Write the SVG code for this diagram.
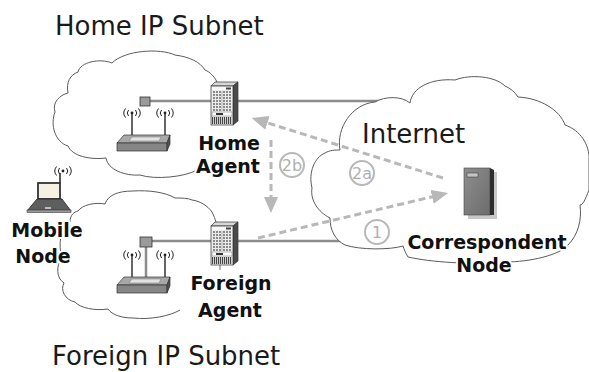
<svg xmlns="http://www.w3.org/2000/svg" width="589" height="372" viewBox="0 0 589 372">
<defs>
<style>
.cloud{fill:#fff;stroke:#5a5a5a;stroke-width:1}
.cloud-edge{fill:none;stroke:#5a5a5a;stroke-width:1}
.link{stroke:#8c8c8c;stroke-width:2.5;fill:none}
.flow{stroke:#b8b8b8;stroke-width:3;stroke-dasharray:7 4;fill:none}
.title{font-family:"DejaVu Sans",sans-serif;font-size:26px;fill:#1a1a1a}
.label{font-family:"DejaVu Sans",sans-serif;font-weight:bold;font-size:19px;fill:#111;text-anchor:middle;stroke:#fff;stroke-width:4;paint-order:stroke;stroke-linejoin:round}
.step circle{fill:none;stroke:#b8b8b8;stroke-width:2}
.step text{font-family:"DejaVu Sans",sans-serif;font-size:16px;fill:#b0b0b0;text-anchor:middle}
.dev{stroke:#333;stroke-width:0.7}
</style>
<marker id="head" markerWidth="5.5" markerHeight="4.8" refX="1" refY="2.4" orient="auto" markerUnits="strokeWidth">
  <path d="M0,0 L5.5,2.4 L0,4.8 Z" fill="#b8b8b8"/>
</marker>
<linearGradient id="srvGrad" x1="0" y1="0" x2="1" y2="1">
  <stop offset="0" stop-color="#8e8e8e"/>
  <stop offset="1" stop-color="#6c6c6c"/>
</linearGradient>
<!-- small radio-wave emblem: dot with two arcs each side -->
<symbol id="waves" viewBox="-10 -5 20 10" width="20" height="10" overflow="visible">
  <circle r="1.4" fill="#222"/>
  <path d="M-3.5,-3 Q-6,0 -3.5,3 M-6.5,-4.5 Q-10,0 -6.5,4.5 M3.5,-3 Q6,0 3.5,3 M6.5,-4.5 Q10,0 6.5,4.5" fill="none" stroke="#222" stroke-width="1"/>
</symbol>
<!-- chassis router -->
<symbol id="chassis" viewBox="0 0 28 43" width="28" height="43" overflow="visible">
  <polygon class="dev" points="1,4 5,0 28,0 23,4" fill="#d8d8d8"/>
  <polygon class="dev" points="23,4 28,0 28,39 23,43" fill="#4a4a4a"/>
  <rect class="dev" x="1" y="4" width="22" height="39" fill="#ececec"/>
  <rect x="2" y="5" width="20" height="3" fill="#f8f8f8"/>
  <rect x="16" y="5.5" width="5" height="2" fill="#444"/>
  <g stroke="#6a6a6a" stroke-width="1.4" stroke-dasharray="2 1">
    <line x1="3" y1="10" x2="11" y2="10"/><line x1="13" y1="10" x2="21" y2="10"/>
    <line x1="3" y1="13" x2="11" y2="13"/><line x1="13" y1="13" x2="21" y2="13"/>
    <line x1="3" y1="16" x2="11" y2="16"/><line x1="13" y1="16" x2="21" y2="16"/>
    <line x1="3" y1="19" x2="11" y2="19"/><line x1="13" y1="19" x2="21" y2="19"/>
    <line x1="3" y1="22" x2="11" y2="22"/><line x1="13" y1="22" x2="21" y2="22"/>
    <line x1="3" y1="25" x2="11" y2="25"/><line x1="13" y1="25" x2="21" y2="25"/>
    <line x1="3" y1="28" x2="11" y2="28"/><line x1="13" y1="28" x2="21" y2="28"/>
  </g>
  <line x1="12" y1="9" x2="12" y2="29" stroke="#999" stroke-width="0.6"/>
  <rect x="2" y="30" width="20" height="4" fill="#fafafa" stroke="#777" stroke-width="0.5"/>
  <rect x="6" y="31" width="7" height="2" fill="#333"/>
  <rect x="2" y="35" width="20" height="7" fill="#cfcfcf"/>
  <line x1="2" y1="38.5" x2="22" y2="38.5" stroke="#444" stroke-width="7" stroke-dasharray="1 1"/>
</symbol>
<!-- wireless access point with two antennas -->
<symbol id="ap" viewBox="0 0 56 44" width="56" height="44" overflow="visible">
  <line x1="17" y1="6" x2="17" y2="30" stroke="#333" stroke-width="1.5"/>
  <line x1="50" y1="6" x2="50" y2="30" stroke="#333" stroke-width="1.5"/>
  <use href="#waves" x="7" y="0"/>
  <use href="#waves" x="40" y="0"/>
  <polygon class="dev" points="9,27 55,27 52,35 2,35" fill="#a8a8a8"/>
  <polygon points="17,29 46,29 44,33 14,33" fill="#e2e2e2" stroke="#777" stroke-width="0.5"/>
  <rect class="dev" x="2" y="35" width="50" height="8" fill="#868686"/>
  <polygon class="dev" points="52,35 55,27 55,36 52,43" fill="#505050"/>
</symbol>
</defs>

<rect width="589" height="372" fill="#fff"/>

<!-- subnet clouds -->
<g id="home-subnet">
  <path class="cloud-edge" d="M197,170 C185,177 155,180 140,175 C125,176 108,170 106,158 C90,160 72,156 68,146 C55,142 50,125 55,112 C52,102 60,95 68,93 C66,82 70,75 78,72 C80,62 100,58 112,63 C125,50 160,48 175,55 C190,57 200,62 205,70 C210,72 214,76 217,82"/>
  <text class="title" x="55" y="35" font-size="26.5">Home IP Subnet</text>
</g>
<g id="foreign-subnet">
  <path class="cloud-edge" d="M180,310 C170,316 150,320 133,318 C122,318 112,315 108,309 C95,311 80,308 75,302 C65,300 60,290 64,283 C56,278 56,265 62,258 C58,245 60,228 70,222 C70,215 74,212 78,211 C82,205 95,202 105,204 C108,195 118,191 133,191 C148,190 165,192 175,198 C182,198 188,198 192,200 C200,201 208,206 212,212 C214,216 215,219 216,222"/>
  <text class="title" x="52" y="365">Foreign IP Subnet</text>
</g>

<!-- wired links -->
<g id="links">
  <line class="link" x1="150" y1="101" x2="380" y2="101"/>
  <line class="link" x1="152" y1="241" x2="345" y2="241"/>
  <line class="link" x1="146" y1="247" x2="146" y2="280"/>
</g>

<g id="internet">
  <path class="cloud" d="M340,150 C336,128 352,104 375,102 C385,96 402,96 410,103 C412,88 430,78 455,80 C470,74 495,76 505,86 C510,88 515,92 518,97 C540,98 560,110 565,125 C580,130 590,145 589,160 L589,190 C585,200 583,205 580,205 C582,220 578,235 568,245 C560,255 530,262 505,262 C470,265 430,262 408,257 C405,252 404,249 403,246 C390,250 360,250 345,245 C335,240 330,230 330,218 C318,212 310,200 312,188 C308,172 315,157 325,153 C330,150 335,150 340,150 Z"/>
  <text class="title" x="362" y="143" font-size="25">Internet</text>
</g>

<!-- devices -->
<g id="home-ap">
  <rect x="140" y="97" width="10" height="9" fill="#9a9a9a" stroke="#333" stroke-width="0.8"/>
  <use href="#ap" x="115" y="108"/>
</g>
<g id="foreign-ap">
  <rect x="140" y="237" width="12" height="10" fill="#9a9a9a" stroke="#333" stroke-width="0.8"/>
  <use href="#ap" x="115" y="250"/>
</g>
<g id="home-agent">
  <use href="#chassis" x="210" y="82"/>
  <text class="label" x="229" y="150">Home</text>
  <text class="label" x="228" y="173">Agent</text>
</g>
<g id="foreign-agent">
  <use href="#chassis" x="210" y="222"/>
  <line x1="220" y1="265" x2="220" y2="270" stroke="#444" stroke-width="0.8"/>
  <text class="label" x="231" y="290">Foreign</text>
  <text class="label" x="230" y="317">Agent</text>
</g>
<g id="mobile-node">
  <line x1="60" y1="183" x2="60" y2="173" stroke="#222" stroke-width="1.5"/>
  <use href="#waves" x="53" y="166"/>
  <rect x="38" y="183" width="22" height="16" fill="#f5f2e4" stroke="#333" stroke-width="1.8"/>
  <polygon points="37,199 62,199 71,211 27,211" fill="#5e5e5e" stroke="#222" stroke-width="0.8"/>
  <rect x="27" y="210" width="44" height="2.5" fill="#9a9a9a" stroke="#222" stroke-width="0.5"/>
  <rect x="45" y="207" width="6" height="2" fill="#bbb"/>
  <text class="label" x="47" y="237">Mobile</text>
  <text class="label" x="43" y="263">Node</text>
</g>
<g id="correspondent-node">
  <polygon points="468,215 494,215 494,172 497,172 497,219 468,219" fill="#c8c8c8"/>
  <rect x="464" y="168" width="26" height="47" fill="url(#srvGrad)" stroke="#444" stroke-width="0.6"/>
  <polygon points="490,168 494,170 494,215 490,215" fill="#2e2e2e"/>
  <rect x="467" y="173" width="11" height="4" fill="#c4c4c4" stroke="#333" stroke-width="0.5"/>
  <text class="label" x="487" y="249">Correspondent</text>
  <text class="label" x="484" y="272">Node</text>
</g>

<!-- message flows -->
<g id="flows">
  <line class="flow" x1="258" y1="238" x2="435" y2="196.1" marker-end="url(#head)"/>
  <line class="flow" x1="443" y1="178" x2="264.6" y2="122" marker-end="url(#head)"/>
  <line class="flow" x1="271" y1="140" x2="271" y2="199.5" marker-end="url(#head)"/>
  <g class="step"><circle cx="292" cy="165" r="12"/><text x="292" y="170.5">2b</text></g>
  <g class="step"><circle cx="362" cy="173" r="12"/><text x="362" y="178.5">2a</text></g>
  <g class="step"><circle cx="377" cy="232" r="12"/><text x="377" y="238" font-size="18">1</text></g>
</g>
</svg>
